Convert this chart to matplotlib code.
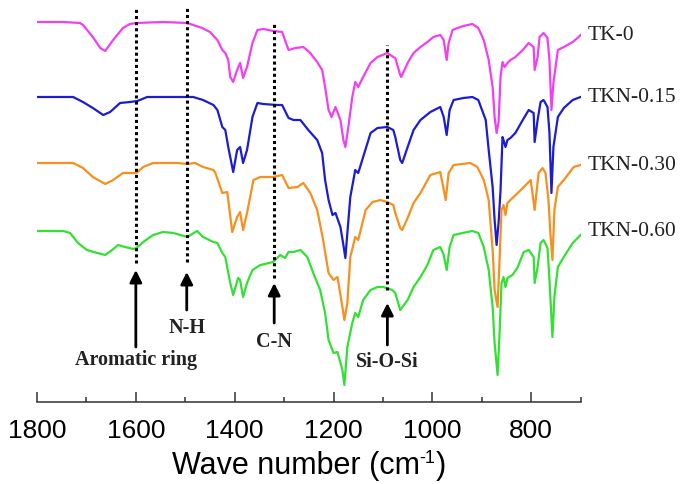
import matplotlib
matplotlib.use("Agg")
import matplotlib.pyplot as plt
from matplotlib.ticker import FixedLocator

# ---- data (wavenumber cm-1, transmittance a.u.) ----
tk0_w = [1800, 1747, 1713, 1707, 1687, 1672, 1662, 1646, 1626, 1612, 1599, 1545, 1496, 1484,
         1466, 1450, 1435, 1425, 1419, 1413, 1409, 1403, 1395, 1389, 1383, 1375, 1364, 1354,
         1342, 1322, 1304, 1291, 1277, 1261, 1247, 1233, 1223, 1217, 1210, 1204, 1196, 1186,
         1180, 1176, 1170, 1162, 1156, 1150, 1140, 1125, 1111, 1091, 1079, 1075, 1065, 1063,
         1050, 1038, 1024, 1010, 998, 984, 977, 971, 967, 959, 949, 937, 919, 907, 896, 886,
         878, 874, 870, 866, 862, 858, 854, 848, 842, 832, 817, 805, 795, 793, 787, 783, 775,
         767, 763, 759, 755, 746, 734, 716, 704, 700]
tk0_t = [378, 378, 377, 375, 363, 352, 349, 360, 372, 376, 377, 378, 377, 375,
         372, 368, 360, 350, 347, 340, 323, 318, 330, 337, 322, 333, 357, 370,
         371, 369, 368, 350, 352, 353, 347, 338, 330, 313, 290, 283, 293, 280,
         260, 253, 273, 303, 318, 313, 323, 337, 343, 347, 343, 342, 325, 323,
         337, 347, 353, 358, 363, 365, 360, 340, 357, 370, 372, 374, 376, 372, 360, 340,
         313, 283, 267, 278, 323, 338, 333, 337, 340, 343, 350, 357, 353, 330, 343, 363, 367,
         362, 340, 290, 317, 350, 353, 358, 363, 365]

tkn15_w = [1800, 1727, 1707, 1687, 1666, 1652, 1632, 1612, 1597, 1577, 1545, 1496, 1484, 1464,
           1443, 1435, 1425, 1419, 1413, 1403, 1395, 1389, 1383, 1375, 1364, 1354, 1342, 1314,
           1304, 1291, 1281, 1267, 1251, 1233, 1223, 1217, 1210, 1202, 1196, 1186, 1180, 1176,
           1172, 1166, 1156, 1150, 1140, 1125, 1111, 1091, 1079, 1075, 1065, 1061, 1050, 1038,
           1024, 1004, 984, 977, 971, 965, 957, 937, 919, 907, 892, 886, 878, 874, 870, 866,
           862, 858, 856, 852, 848, 842, 832, 817, 805, 795, 793, 787, 781, 775, 767, 763, 759,
           755, 746, 734, 716, 700]
tkn15_t = [303, 303, 298, 292, 285, 288, 297, 298, 299, 303, 303, 303, 303, 300,
           295, 290, 273, 270, 253, 228, 250, 253, 237, 250, 283, 297, 296, 295,
           295, 282, 280, 280, 270, 260, 247, 220, 200, 185, 187, 173, 155, 142,
           167, 203, 230, 227, 243, 267, 272, 273, 270, 263, 240, 237, 253, 270,
           280, 288, 293, 283, 265, 290, 300, 302, 303, 300, 280, 250, 213, 180, 155, 177,
           210, 263, 260, 253, 260, 262, 267, 280, 290, 287, 258, 280, 298, 300, 293, 267, 207,
           253, 283, 292, 300, 303]

tkn30_w = [1800, 1727, 1707, 1687, 1662, 1646, 1626, 1599, 1585, 1565, 1516, 1496, 1480, 1464,
           1443, 1439, 1425, 1415, 1405, 1395, 1389, 1383, 1375, 1362, 1348, 1322, 1304, 1291,
           1273, 1261, 1247, 1233, 1221, 1210, 1200, 1192, 1182, 1178, 1172, 1166, 1156, 1150,
           1135, 1121, 1105, 1091, 1079, 1075, 1065, 1061, 1050, 1038, 1024, 1004, 984, 973,
           967, 957, 923, 909, 896, 886, 878, 874, 868, 864, 860, 856, 852, 848, 842, 821, 801,
           793, 785, 777, 771, 765, 761, 757, 753, 746, 734, 714, 700]
tkn30_t = [237, 237, 232, 223, 216, 220, 227, 227, 233, 237, 237, 236, 237, 233,
           230, 227, 207, 208, 168, 183, 188, 170, 187, 220, 223, 223, 225, 212,
           213, 217, 207, 190, 160, 127, 120, 123, 93, 80, 97, 143, 163, 160,
           190, 198, 200, 198, 195, 187, 172, 170, 182, 197, 207, 225, 228, 200,
           227, 235, 237, 233, 220, 200, 150, 110, 93, 140, 190, 195, 185, 197, 200, 210, 220,
           190, 227, 232, 227, 200, 165, 140, 190, 213, 220, 233, 235]

tkn60_w = [1800, 1747, 1733, 1717, 1699, 1678, 1662, 1648, 1636, 1622, 1605, 1599, 1585, 1565,
           1545, 1524, 1496, 1476, 1464, 1443, 1435, 1425, 1419, 1409, 1403, 1393, 1389, 1383,
           1375, 1364, 1348, 1322, 1308, 1298, 1291, 1281, 1267, 1253, 1241, 1227, 1217, 1210,
           1200, 1192, 1182, 1178, 1172, 1162, 1156, 1150, 1140, 1125, 1111, 1099, 1081, 1075,
           1065, 1050, 1038, 1024, 1010, 998, 984, 977, 971, 965, 957, 939, 919, 907, 896, 886,
           878, 874, 868, 864, 860, 856, 852, 848, 838, 828, 815, 805, 795, 793, 787, 781, 775,
           767, 763, 757, 753, 746, 734, 716, 700]
tkn60_t = [169, 169, 167, 157, 150, 147, 145, 150, 155, 153, 151, 152, 158, 165,
           168, 167, 163, 169, 163, 158, 157, 147, 143, 117, 105, 122, 120, 103,
           117, 130, 135, 138, 145, 142, 148, 148, 150, 143, 127, 110, 87, 60,
           47, 48, 30, 15, 53, 77, 87, 83, 100, 110, 113, 113, 110, 107,
           90, 100, 113, 123, 135, 150, 153, 145, 130, 153, 165, 167, 169, 167, 153, 130,
           93, 57, 25, 67, 117, 123, 113, 122, 125, 132, 148, 150, 143, 117, 133, 157, 160,
           152, 120, 63, 103, 133, 143, 157, 165]

series_names = ["TK-0", "TKN-0.15", "TKN-0.30", "TKN-0.60"]
series_colors = ["#f040f0", "#1c1cd2", "#f7901e", "#33e033"]
label_y = [365, 303, 235, 168]

# marker lines: wavenumber, dotted top/bottom, arrow tail/tip, label y, label text
marks_w = [1600, 1497, 1320, 1091]
marks_top = [392, 392, 378, 355]
marks_bot = [137, 138, 122, 110]
arrow_tail = [53, 90, 77, 55]
arrow_tip = [130, 128, 117, 97]
marks_label_y = [40, 72, 58, 38]
marks_text = ["Aromatic ring", "N-H", "C-N", "Si-O-Si"]

W, H = 686, 484
SPINE = 402
fig = plt.figure(figsize=(W / 100, H / 100), dpi=100)
ax = fig.add_axes([37 / W, (H - SPINE) / H, (580.6 - 37) / W, SPINE / H])

for w, t, c in zip([tk0_w, tkn15_w, tkn30_w, tkn60_w],
                   [tk0_t, tkn15_t, tkn30_t, tkn60_t], series_colors):
    ax.plot(w, t, color=c, lw=1.6, solid_joinstyle="round")

for name, y in zip(series_names, label_y):
    ax.text(686, y, name, fontsize=15.5, family="Liberation Serif",
            ha="left", va="center", color="#222222", clip_on=False)

for w, top, bot, tail, tip, ly, txt in zip(marks_w, marks_top, marks_bot, arrow_tail,
                                           arrow_tip, marks_label_y, marks_text):
    ax.plot([w, w], [bot, top], color="black", lw=2.2, ls=(0, (1.0, 1.0)))
    ax.annotate("", xy=(w, tip), xytext=(w, tail),
                arrowprops=dict(arrowstyle="-|>", color="black", lw=2.0,
                                mutation_scale=18, shrinkA=0, shrinkB=0))
    ax.text(w, ly, txt, fontsize=14.5, family="Liberation Serif", fontweight="bold",
            ha="center", va="center", color="#222222")

ax.set_xlim(1800, 700)
ax.set_ylim(400 - SPINE, 400)
for s in ["left", "right", "top"]:
    ax.spines[s].set_visible(False)
ax.spines["bottom"].set_linewidth(1.1)
ax.spines["bottom"].set_color("#333333")
ax.set_yticks([])
ax.xaxis.set_major_locator(FixedLocator([1800, 1600, 1400, 1200, 1000, 800]))
ax.xaxis.set_minor_locator(FixedLocator([1700, 1500, 1300, 1100, 900, 700]))
ax.tick_params(axis="x", which="major", direction="in", length=7, width=1.1,
               color="#333333", pad=12, labelsize=19)
ax.tick_params(axis="x", which="minor", direction="in", length=3.5, width=1.1,
               color="#333333")
for lab in ax.get_xticklabels():
    lab.set_family("Liberation Sans")
ax.patch.set_alpha(0)

# x-axis title built from pieces so the superscript uses a short hyphen
fig.canvas.draw()
r = fig.canvas.get_renderer()
base_y = 1 - 474 / H
parts = [("Wave number (cm", 22, 0), ("-1", 13, 11), (")", 22, 0)]
widths = []
for s, fs, dy in parts:
    t = fig.text(0, 0, s, fontsize=fs, family="Liberation Sans")
    widths.append(t.get_window_extent(r).width)
    t.remove()
x0 = (37 + 580.6) / 2 - sum(widths) / 2
for (s, fs, dy), wd in zip(parts, widths):
    fig.text(x0 / W, base_y + dy / H, s, fontsize=fs, family="Liberation Sans",
             ha="left", va="baseline")
    x0 += wd

fig.savefig("out.png", dpi=100)
